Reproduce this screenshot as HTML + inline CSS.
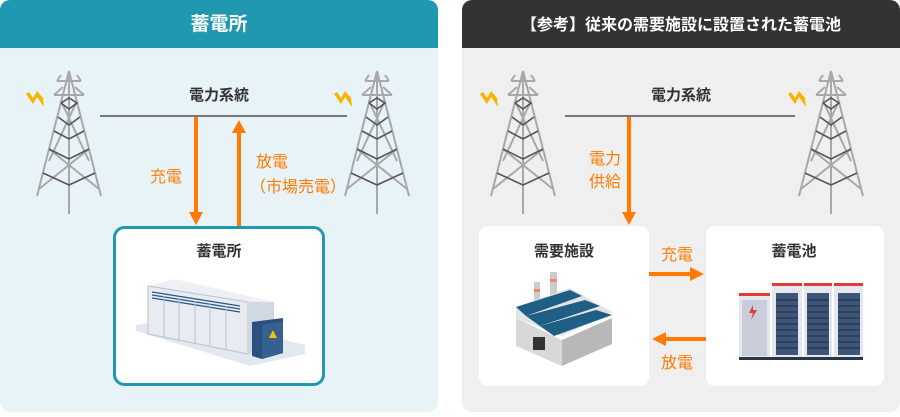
<!DOCTYPE html>
<html><head><meta charset="utf-8"><style>
html,body{margin:0;padding:0;background:#fff;}
svg text{font-family:"Liberation Sans","Noto Sans CJK JP",sans-serif;}
</style></head><body>
<svg width="900" height="412" viewBox="0 0 900 412" xmlns="http://www.w3.org/2000/svg">
<defs>
<g id="tw">
 <g stroke="#a8a8a8" stroke-width="2" fill="none">
  <line x1="0" y1="0" x2="-32" y2="125"/><line x1="0" y1="0" x2="32" y2="125"/>
  <line x1="0" y1="0" x2="0" y2="143"/>
  <line x1="-12" y1="10" x2="12" y2="10"/><line x1="-15" y1="24" x2="15" y2="24"/>
  <line x1="-12" y1="10" x2="-8" y2="4"/><line x1="12" y1="10" x2="8" y2="4"/>
  <line x1="-15" y1="24" x2="-6" y2="16"/><line x1="15" y1="24" x2="6" y2="16"/>
  <line x1="-8" y1="30" x2="20" y2="90"/><line x1="8" y1="30" x2="-20" y2="90"/>
  <line x1="-20" y1="78" x2="30" y2="118"/><line x1="20" y1="78" x2="-30" y2="118"/>
 </g>
 <g stroke="#555" stroke-width="1.6" fill="none">
  <polyline points="-8,32 0,38 8,32 0,27 -8,32"/>
  <polyline points="-11,46 0,54 11,46"/>
  <polyline points="-15,60 0,68 15,60"/>
  <polyline points="-20,78 0,88 20,78"/>
  <polyline points="-26,102 0,114 26,102"/>
 </g>
 <polygon points="-43,23 -36,33 -32,26 -25,36 -26,27 -32,20 -36,27 -40,21" fill="#f7b500"/>
</g>
</defs>

<rect x="0" y="0" width="438" height="412" rx="10" fill="#e8f3f8"/>
<path d="M0,48V10A10,10 0 0 1 10,0H428A10,10 0 0 1 438,10V48Z" fill="#1f98b0"/>
<text x="219" y="30" font-size="19" font-weight="bold" fill="#fff" text-anchor="middle">蓄電所</text>
<use href="#tw" x="69" y="71"/>
<use href="#tw" x="377" y="71"/>
<line x1="100" y1="116" x2="347" y2="116" stroke="#777" stroke-width="2"/>
<text x="219" y="100" font-size="15" font-weight="bold" fill="#333" text-anchor="middle">電力系統</text>
<line x1="196" y1="117" x2="196" y2="213" stroke="#ff7a00" stroke-width="4"/>
<path d="M189,212H203L196,225Z" fill="#ff7a00"/>
<line x1="239" y1="226" x2="239" y2="132" stroke="#ff7a00" stroke-width="4"/>
<path d="M232,133H246L239,120Z" fill="#ff7a00"/>
<text x="166" y="182" font-size="16" fill="#ff7a00" text-anchor="middle">充電</text>
<text x="272" y="167" font-size="16" fill="#ff7a00" text-anchor="middle">放電</text>
<text x="298" y="192" font-size="16" fill="#ff7a00" text-anchor="middle">（市場売電）</text>
<rect x="114.5" y="227.5" width="209" height="157" rx="10" fill="#fff" stroke="#1f98b0" stroke-width="3"/>
<text x="219" y="256" font-size="15" font-weight="bold" fill="#333" text-anchor="middle">蓄電所</text>
<polygon points="136,331 250,366 305,354 305,345 190,316 136,325" fill="#e2e8ef"/>
<polygon points="148,286 248,302 274,302 175,279" fill="#edf1f5"/>
<polygon points="148,286 248,302 248,354 148,334" fill="#e8ecf0" stroke="#b7c2d0" stroke-width="1"/>
<polygon points="248,302 274,302 274,354 248,354" fill="#d0d8e2"/>
<g stroke="#2b5687" stroke-width="1.3">
 <line x1="152" y1="292" x2="240" y2="306"/><line x1="152" y1="295" x2="240" y2="309"/><line x1="152" y1="298" x2="240" y2="312"/>
</g>
<g stroke="#b7c2d0" stroke-width="1">
 <line x1="164" y1="296" x2="164" y2="337"/><line x1="179" y1="298" x2="179" y2="340"/><line x1="195" y1="301" x2="195" y2="343"/>
 <line x1="210" y1="303" x2="210" y2="346"/><line x1="226" y1="306" x2="226" y2="349"/>
</g>
<polygon points="252,322 283,318 283,353 262,359 252,356" fill="#2b4f7e"/>
<polygon points="262,325 283,321 283,353 262,359" fill="#35608f"/>
<polygon points="273,330 277,338 269,338" fill="#f7c500"/>

<rect x="462" y="0" width="438" height="412" rx="10" fill="#efefef"/>
<path d="M462,48V10A10,10 0 0 1 472,0H890A10,10 0 0 1 900,10V48Z" fill="#333"/>
<text x="681" y="30" font-size="16" font-weight="bold" fill="#fff" text-anchor="middle">【参考】従来の需要施設に設置された蓄電池</text>
<use href="#tw" x="523" y="71"/>
<use href="#tw" x="831" y="71"/>
<line x1="565" y1="116" x2="795" y2="116" stroke="#777" stroke-width="2"/>
<text x="681" y="100" font-size="15" font-weight="bold" fill="#333" text-anchor="middle">電力系統</text>
<line x1="629" y1="117" x2="629" y2="213" stroke="#ff7a00" stroke-width="4"/>
<path d="M622,212H636L629,225Z" fill="#ff7a00"/>
<text x="605" y="164" font-size="16" fill="#ff7a00" text-anchor="middle">電力</text>
<text x="605" y="187" font-size="16" fill="#ff7a00" text-anchor="middle">供給</text>
<rect x="479" y="226" width="170" height="160" rx="9" fill="#fff"/>
<rect x="706" y="226" width="178" height="160" rx="9" fill="#fff"/>
<text x="564" y="256" font-size="15" font-weight="bold" fill="#333" text-anchor="middle">需要施設</text>
<text x="794" y="256" font-size="15" font-weight="bold" fill="#333" text-anchor="middle">蓄電池</text>
<line x1="649" y1="274" x2="692" y2="274" stroke="#ff7a00" stroke-width="4"/>
<path d="M690,267V281L704,274Z" fill="#ff7a00"/>
<text x="677" y="260" font-size="16" fill="#ff7a00" text-anchor="middle">充電</text>
<line x1="706" y1="339" x2="664" y2="339" stroke="#ff7a00" stroke-width="4"/>
<path d="M666,332V346L652,339Z" fill="#ff7a00"/>
<text x="677" y="368" font-size="16" fill="#ff7a00" text-anchor="middle">放電</text>
<rect x="534" y="282" width="6" height="28" fill="#ccc"/>
<rect x="550" y="272" width="7" height="34" fill="#ccc"/>
<rect x="534" y="289" width="6" height="3" fill="#e86"/><rect x="550" y="279" width="7" height="3" fill="#e86"/>
<polygon points="516,307 570,288 612,312 562,336 516,318" fill="#e3e3e3"/>
<polygon points="516,307 570,290 582,296 526,316" fill="#1f5f86"/>
<polygon points="526,316 585,300 600,306 540,326" fill="#1f5f86"/>
<polygon points="540,326 596,310 612,315 554,336" fill="#1f5f86"/>
<polygon points="516,318 562,340 562,366 516,346" fill="#d8d8d8"/>
<polygon points="562,340 612,318 612,344 562,366" fill="#b8b8b8"/>
<rect x="533" y="337" width="12" height="13" fill="#333"/>
<rect x="739" y="293" width="31" height="67" fill="#e4e7ee"/>
<rect x="739" y="293" width="31" height="3" fill="#e53935"/>
<rect x="742" y="300" width="25" height="56" fill="#c9ceda"/>
<path d="M753,305L749,313H753L751,320L757,310H753Z" fill="#e53935"/>
<rect x="772" y="283" width="30" height="77" fill="#e4e7ee"/><rect x="772" y="283" width="30" height="3" fill="#e53935"/><rect x="776" y="293" width="22" height="62" fill="#3d5578"/>
<rect x="804" y="283" width="28" height="77" fill="#e4e7ee"/><rect x="804" y="283" width="28" height="3" fill="#e53935"/><rect x="807" y="293" width="22" height="62" fill="#3d5578"/>
<rect x="834" y="283" width="29" height="77" fill="#e4e7ee"/><rect x="834" y="283" width="29" height="3" fill="#e53935"/><rect x="838" y="293" width="22" height="62" fill="#3d5578"/>
<g stroke="#1e2a3c" stroke-width="1">
 <path d="M776,300H798M776,306H798M776,312H798M776,318H798M776,324H798M776,330H798M776,336H798M776,342H798M776,348H798"/>
 <path d="M807,300H829M807,306H829M807,312H829M807,318H829M807,324H829M807,330H829M807,336H829M807,342H829M807,348H829"/>
 <path d="M838,300H860M838,306H860M838,312H860M838,318H860M838,324H860M838,330H860M838,336H860M838,342H860M838,348H860"/>
</g>
<rect x="739" y="357" width="124" height="3" fill="#2a3548"/>
</svg>
</body></html>
